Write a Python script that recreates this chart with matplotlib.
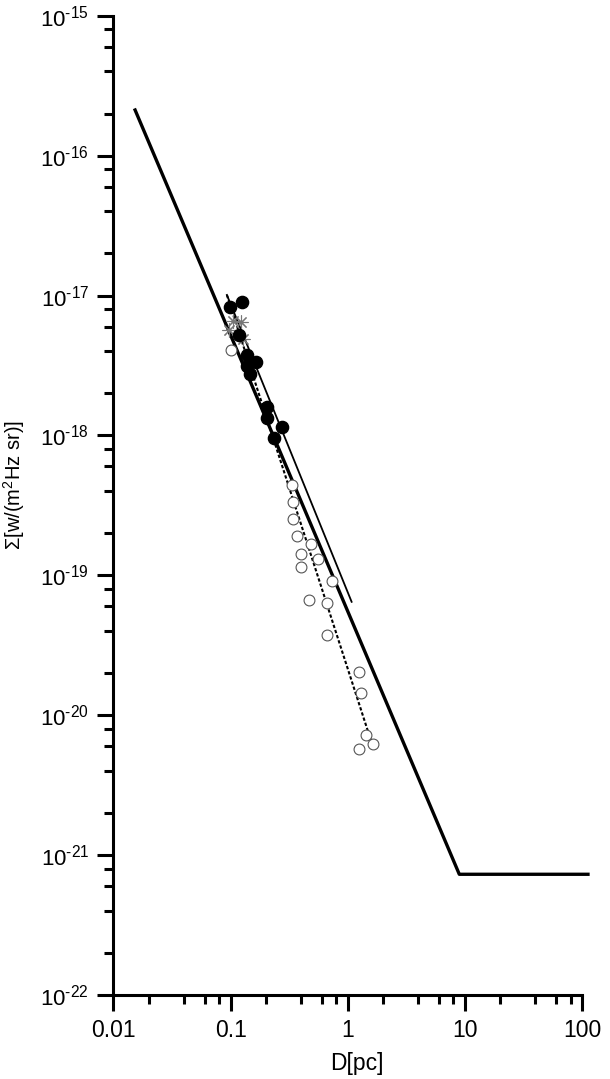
import numpy as np
import matplotlib
matplotlib.use('Agg')
import matplotlib.pyplot as plt
from matplotlib.ticker import LogLocator, FixedLocator, NullFormatter

plt.rcParams['font.family'] = ['Liberation Sans', 'DejaVu Sans']
plt.rcParams['mathtext.fontset'] = 'custom'
plt.rcParams['mathtext.rm'] = 'Liberation Sans'
plt.rcParams['mathtext.default'] = 'regular'

# filled circles
filled_x = [0.0988, 0.1264, 0.1180, 0.1373, 0.1664, 0.138, 0.1465, 0.2034, 0.2034, 0.2732, 0.2361]
filled_y = [8.34e-18, 8.98e-18, 5.22e-18, 3.755e-18, 3.375e-18, 3.13e-18, 2.75e-18,
            1.61e-18, 1.325e-18, 1.143e-18, 9.53e-19]

# asterisks
star_x = [0.1048, 0.0960, 0.1227, 0.1276]
star_y = [6.57e-18, 5.67e-18, 6.46e-18, 4.89e-18]

# open circles
open_x = [0.1014, 0.3325, 0.343, 0.341, 0.3712, 0.486, 0.3969, 0.561, 0.3969, 0.739,
          0.470, 0.6697, 0.6697, 1.249, 1.291, 1.425, 1.654, 1.249]
open_y = [4.10e-18, 4.42e-19, 3.36e-19, 2.51e-19, 1.91e-19, 1.674e-19, 1.413e-19, 1.30e-19,
          1.152e-19, 9.15e-20, 6.66e-20, 6.31e-20, 3.745e-20, 2.046e-20, 1.434e-20,
          7.22e-21, 6.22e-21, 5.70e-21]

# lines
main_x = [0.0153, 8.97, 112.6]
main_y = [2.12e-16, 7.30e-22, 7.30e-22]
thin_x = [0.093, 1.08]
thin_y = [1.01e-17, 6.47e-20]
dot_x = [0.093, 1.66]
dot_y = [1.01e-17, 5.8e-21]

x_ticks = [0.01, 0.1, 1, 10, 100]
x_labels = ['0.01', '0.1', '1', '10', '100']
y_exps = [-22, -21, -20, -19, -18, -17, -16, -15]


def main():
    fig = plt.figure(figsize=(6.10, 10.79), dpi=100)
    ax = fig.add_axes([0.186, 0.0778, 0.768, 0.9076])

    ax.plot(main_x, main_y, color='black', lw=2.4, clip_on=False, zorder=2)
    ax.plot(thin_x, thin_y, color='black', lw=1.3, zorder=2)
    ax.plot(dot_x, dot_y, color='black', lw=1.5, dashes=(1.6, 1.0), zorder=2)

    ax.plot(open_x, open_y, linestyle='none', marker='o', ms=7.8, mfc='white',
            mec='#555555', mew=0.8, zorder=3)
    ax.plot(star_x, star_y, linestyle='none', marker=(8, 2, 0), ms=10,
            mec='#777777', mew=0.8, zorder=3)
    ax.plot(filled_x, filled_y, linestyle='none', marker='o', ms=8.8,
            color='black', zorder=4)

    ax.set_xscale('log')
    ax.set_yscale('log')
    ax.set_xlim(0.01, 100)
    ax.set_ylim(1e-22, 1e-15)

    ax.xaxis.set_major_locator(FixedLocator(x_ticks))
    ax.set_xticklabels(x_labels, fontsize=16.5)
    ax.xaxis.set_minor_locator(LogLocator(base=10, subs=(2, 4, 6, 8)))
    ax.xaxis.set_minor_formatter(NullFormatter())

    ax.yaxis.set_major_locator(FixedLocator([10.0 ** e for e in y_exps]))
    ax.set_yticklabels(['10$^{\u2010%d}$' % -e for e in y_exps], fontsize=16)
    ax.yaxis.set_minor_locator(LogLocator(base=10, subs=(2, 4, 6, 8), numticks=20))
    ax.yaxis.set_minor_formatter(NullFormatter())

    for s in ['top', 'right']:
        ax.spines[s].set_visible(False)
    for s in ['left', 'bottom']:
        ax.spines[s].set_linewidth(2.2)

    ax.tick_params(which='major', direction='out', length=11.5, width=2.2, pad=6)
    ax.tick_params(which='minor', direction='out', length=6.5, width=2.2)

    ax.set_xlabel('D[pc]', fontsize=16.5)
    ax.set_ylabel(r'Σ[w/(m$^2$Hz sr)]', fontsize=14.5)
    ax.xaxis.set_label_coords(0.519, -0.058)
    ax.yaxis.set_label_coords(-0.184, 0.521)

    fig.savefig('out.png', dpi=100)


if __name__ == '__main__':
    main()
